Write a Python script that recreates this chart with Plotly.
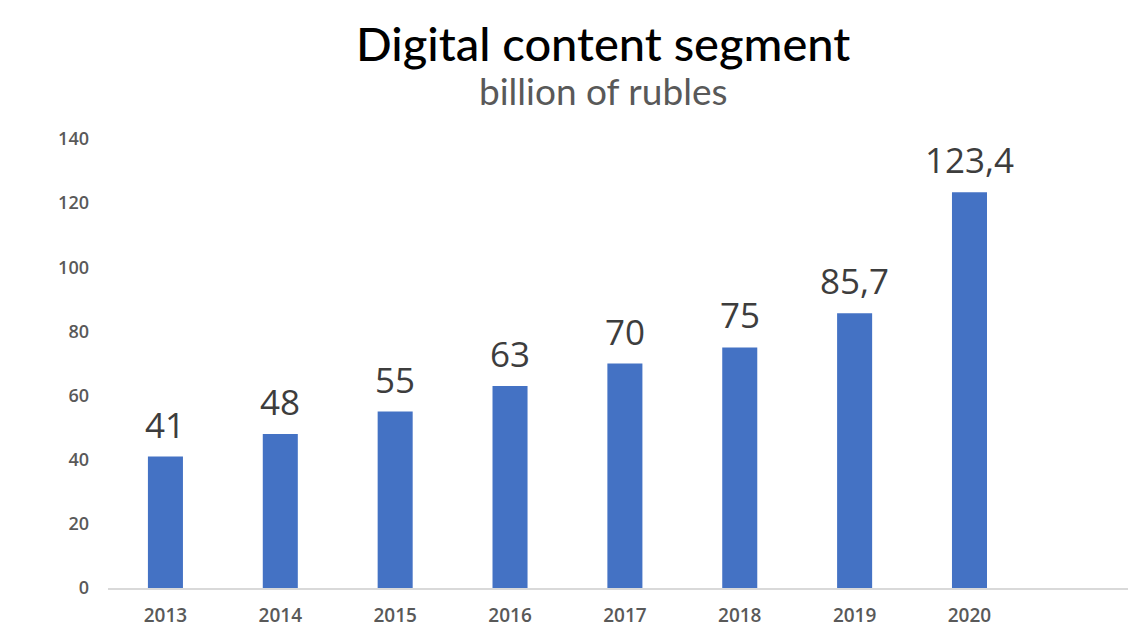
import plotly.graph_objects as go

years = ["2013", "2014", "2015", "2016", "2017", "2018", "2019", "2020"]
values = [41, 48, 55, 63, 70, 75, 85.7, 123.4]
labels = ["41", "48", "55", "63", "70", "75", "85,7", "123,4"]
y_ticks = [0, 20, 40, 60, 80, 100, 120, 140]

fig = go.Figure()
fig.add_trace(go.Bar(x=years, y=values, marker=dict(color="#4472C4", line=dict(width=0)),
                     width=0.305, hoverinfo="skip"))

for i, (v, lab) in enumerate(zip(values, labels)):
    fig.add_annotation(x=i, y=v, text=lab, showarrow=False, yanchor="bottom", yshift=7,
                       font=dict(family="Open Sans", size=35, color="#3d3d3d"))

fig.add_annotation(xref="paper", yref="paper", x=0.4853, y=1.0, yanchor="middle", yshift=97,
                   text="Digital content segment", showarrow=False, height=57, valign="middle",
                   font=dict(family="Lato", size=47, color="#000000", weight=500))
fig.add_annotation(xref="paper", yref="paper", x=0.4853, y=1.0, yanchor="middle", yshift=49,
                   text="billion of rubles", showarrow=False, height=36, valign="middle",
                   font=dict(family="Lato", size=37, color="#595959"))

fig.update_layout(
    width=1128, height=628,
    margin=dict(l=108, r=0, t=139, b=38),
    paper_bgcolor="white", plot_bgcolor="white",
    showlegend=False,
    xaxis=dict(type="category", range=[-0.5, 8.38], showgrid=False, zeroline=False,
               showline=True, linecolor="#D9D9D9", linewidth=2, ticks="",
               tickfont=dict(family="Open Sans", size=19, color="#595959", weight=600),
               ticklabelstandoff=9),
    yaxis=dict(range=[0, 140], tickvals=y_ticks, showgrid=False, zeroline=False,
               showline=False, ticks="",
               tickfont=dict(family="Open Sans", size=18, color="#595959", weight=600),
               ticklabelstandoff=18),
)

fig.write_html("out.html", config={"displayModeBar": False},
               post_script="document.body.style.margin='0';")
